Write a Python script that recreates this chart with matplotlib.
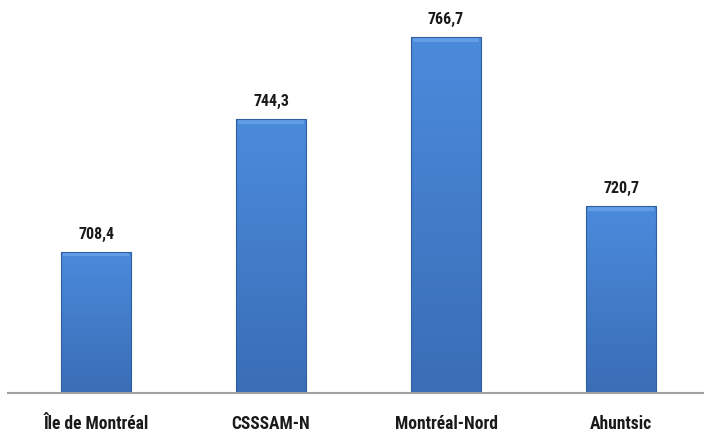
import matplotlib
matplotlib.use("Agg")
import matplotlib.pyplot as plt
import numpy as np
from matplotlib.colors import LinearSegmentedColormap
from matplotlib import font_manager

categories = ["Île de Montréal", "CSSSAM-N", "Montréal-Nord", "Ahuntsic"]
values = [708.4, 744.3, 766.7, 720.7]
value_labels = ["708,4", "744,3", "766,7", "720,7"]

candidates = ['Liberation Sans Narrow', 'DejaVu Sans Condensed', 'Roboto Condensed',
              'Open Sans Condensed', 'Lato']
chosen = 'DejaVu Sans'
for c in candidates:
    try:
        font_manager.findfont(font_manager.FontProperties(family=c, weight='bold'),
                              fallback_to_default=False)
        chosen = c
        break
    except Exception:
        continue
plt.rcParams['font.family'] = [chosen, 'DejaVu Sans']

fig = plt.figure(figsize=(7.04, 4.40), dpi=100)
W, H = 704, 440
base_px = 393
ymin = 670.0
scale = 3.683  # px per unit
ymax = ymin + base_px / scale
ax = fig.add_axes([8 / W, (H - base_px) / H, (W - 8) / W, base_px / H])

x = np.arange(len(categories))
bw = 0.40
bars = ax.bar(x, [v - ymin for v in values], bottom=ymin, width=bw,
              color="#4280d0", edgecolor="#2f5e9e", linewidth=0.8, zorder=2)

cmap = LinearSegmentedColormap.from_list("g", ["#4b8bdc", "#3a6db6"])
grad = np.linspace(0, 1, 256).reshape(-1, 1)
for b, v in zip(bars, values):
    x0 = b.get_x()
    x1 = x0 + b.get_width()
    im = ax.imshow(grad, cmap=cmap, extent=[x0, x1, ymin, v], aspect='auto',
                   origin='upper', zorder=2.5)
    im.set_clip_path(b)
    ax.fill_between([x0 + 0.01, x1 - 0.01], v - 1.3, v - 0.1, color="#6da6ea",
                    alpha=0.7, zorder=3, linewidth=0)
    b.set_zorder(3.5)
    b.set_facecolor("none")

# fit font sizes to the reference text widths
renderer = fig.canvas.get_renderer()
def fit_size(s, target_px, base=12.0):
    t = fig.text(0, 0, s, fontsize=base, fontweight="bold")
    w = t.get_window_extent(renderer).width
    t.remove()
    return base * target_px / w

val_fs = min(11.5, fit_size("708,4", 37))
cat_fs = min(13.5, fit_size("Île de Montréal", 106))

for xi, v, lab in zip(x, values, value_labels):
    ax.annotate(lab, (xi, v), xytext=(0, 13), textcoords="offset pixels",
                ha="center", va="baseline", fontsize=val_fs, fontweight="bold",
                color="#1a1a1a")

ax.set_xlim(-0.503, 3 + (W - 621) / 175.0)
ax.set_ylim(ymin, ymax)
ax.set_xticks(x)
ax.set_xticklabels(categories, fontsize=cat_fs, fontweight="bold", color="#1a1a1a")
ax.tick_params(axis="x", length=0, pad=16)
ax.set_yticks([])
for s in ["top", "right", "left"]:
    ax.spines[s].set_visible(False)
ax.spines["bottom"].set_color("#a0a0a0")
ax.spines["bottom"].set_linewidth(1.5)
ax.spines["bottom"].set_zorder(5)

fig.savefig("out.png", dpi=100)
